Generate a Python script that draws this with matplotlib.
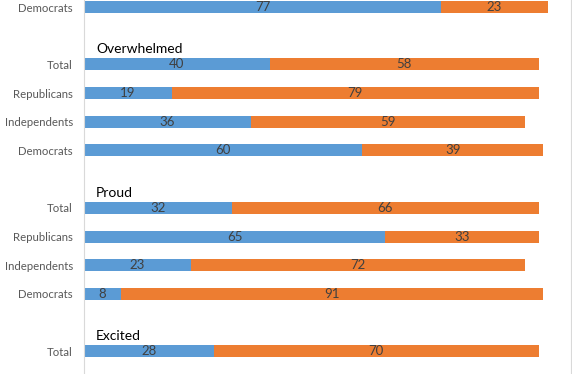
import numpy as np
import matplotlib.pyplot as plt

plt.rcParams['font.family'] = ['Lato', 'DejaVu Sans']

row_labels = ["Democrats", "", "Total", "Republicans", "Independents", "Democrats",
              "", "Total", "Republicans", "Independents", "Democrats", "", "Total"]
blue = [77, np.nan, 40, 19, 36, 60, np.nan, 32, 65, 23, 8, np.nan, 28]
orange = [23, np.nan, 58, 79, 59, 39, np.nan, 66, 33, 72, 91, np.nan, 70]
headers = ["Overwhelmed", "Proud", "Excited"]

BLUE = '#5B9BD5'
ORANGE = '#ED7D31'

fig = plt.figure(figsize=(5.72, 3.74), dpi=100)
ax = fig.add_axes([84 / 572, 0, 487 / 572, 1])

y = np.arange(len(row_labels))
b = np.array(blue, dtype=float)
o = np.array(orange, dtype=float)

ax.barh(y, b, height=0.42, color=BLUE)
ax.barh(y, o, left=b, height=0.42, color=ORANGE)

for i in range(len(y)):
    if np.isnan(b[i]):
        continue
    ax.text(b[i] / 2, y[i], f"{b[i]:.0f}", ha='center', va='center',
            fontsize=9.5, color='#404040')
    ax.text(b[i] + o[i] / 2, y[i], f"{o[i]:.0f}", ha='center', va='center',
            fontsize=9.5, color='#404040')

# section headers sit in the blank rows
blank_rows = [i for i, l in enumerate(row_labels) if l == ""]
for h, r in zip(headers, blank_rows):
    ax.text(2.6, r + 0.47, h, ha='left', va='center', fontsize=10, color='black')

ax.set_yticks(y)
ax.set_yticklabels(row_labels, fontsize=8.2, color='#595959')
ax.tick_params(axis='y', length=0, pad=8)
ax.set_xticks([])
ax.set_xlim(0, 105)
ax.set_ylim(12.79, -0.244)

for s in ['top', 'bottom']:
    ax.spines[s].set_visible(False)
ax.spines['left'].set_color('#D9D9D9')
ax.spines['right'].set_color('#D9D9D9')

fig.savefig('out.png', dpi=100)
